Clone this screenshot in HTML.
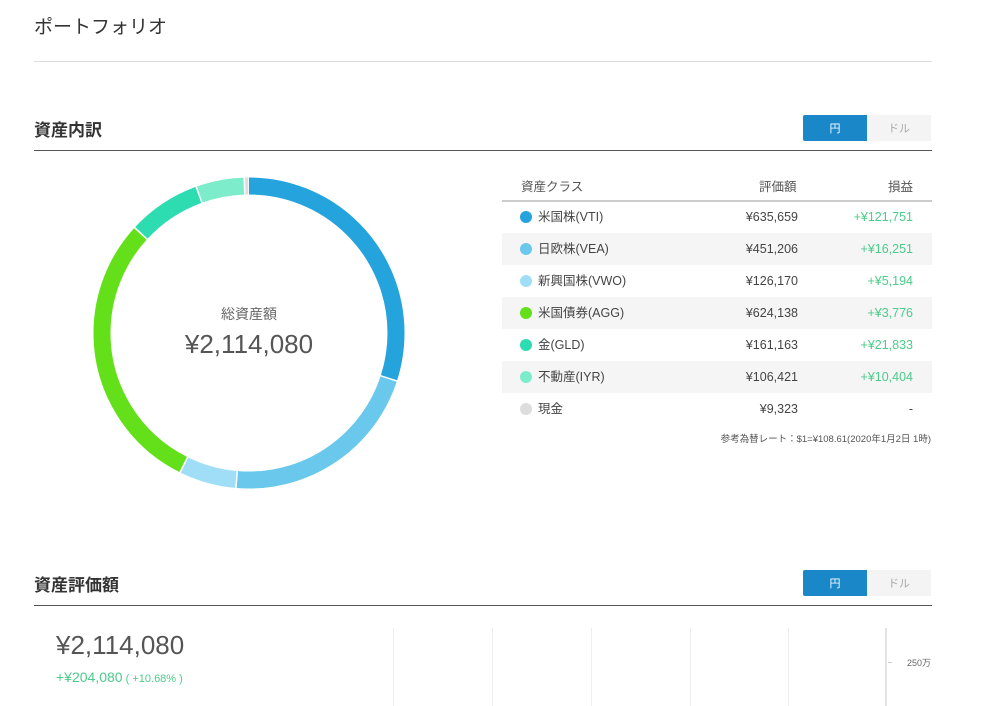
<!DOCTYPE html>
<html><head><meta charset="utf-8"><style>
body{margin:0;width:983px;height:706px;background:#fff;font-family:"Liberation Sans","Noto Sans CJK JP",sans-serif;color:#333;position:relative;overflow:hidden}
.a{position:absolute;white-space:nowrap}
.tg{position:absolute;width:128px;height:26px;display:flex;font-size:11px}
.tg div{flex:1;display:flex;align-items:center;justify-content:center}
.tg .on{background:#1a87c9;color:#fff;border-radius:2px 0 0 2px}
.tg .off{background:#f4f4f4;color:#aaa}
.row{position:absolute;left:502px;width:430px;height:32px;font-size:12.5px;color:#444}
.row span{position:absolute;top:0;line-height:32px;height:32px}
.dot{position:absolute;left:18px;top:10px;width:12px;height:12px;border-radius:50%}
.g{color:#4ccb8a}
</style></head><body>
<div class="a" style="left:34px;top:12px;font-size:19px;color:#333">ポートフォリオ</div>
<div class="a" style="left:34px;top:61px;width:898px;height:1px;background:#ddd"></div>

<div class="a" style="left:34px;top:116px;font-size:17px;font-weight:bold">資産内訳</div>
<div class="tg" style="left:803px;top:115px"><div class="on">円</div><div class="off">ドル</div></div>
<div class="a" style="left:34px;top:150px;width:898px;height:1px;background:#555"></div>

<svg class="a" style="left:0;top:0" width="500" height="520">
<g transform="rotate(-90 249 333)" fill="none" stroke-width="17">
<circle cx="249" cy="333" r="147" stroke="#24a3dd" stroke-dasharray="276.2 1000" stroke-dashoffset="0"/>
<circle cx="249" cy="333" r="147" stroke="#6ac8ec" stroke-dasharray="195.6 1000" stroke-dashoffset="-277.7"/>
<circle cx="249" cy="333" r="147" stroke="#a0def8" stroke-dasharray="53.6 1000" stroke-dashoffset="-474.8"/>
<circle cx="249" cy="333" r="147" stroke="#63e01a" stroke-dasharray="271.1 1000" stroke-dashoffset="-529.9"/>
<circle cx="249" cy="333" r="147" stroke="#2ddcb0" stroke-dasharray="68.9 1000" stroke-dashoffset="-802.6"/>
<circle cx="249" cy="333" r="147" stroke="#7deccb" stroke-dasharray="45 1000" stroke-dashoffset="-873"/>
<circle cx="249" cy="333" r="147" stroke="#ddd" stroke-dasharray="3 1000" stroke-dashoffset="-919.5"/>
</g>
<text x="249" y="319" text-anchor="middle" font-size="14" fill="#666" font-family="Liberation Sans,Noto Sans CJK JP,sans-serif">総資産額</text>
<text x="249" y="353" text-anchor="middle" font-size="26" fill="#555" font-family="Liberation Sans,Noto Sans CJK JP,sans-serif">¥2,114,080</text>
</svg>

<div class="a" style="left:521px;top:176px;font-size:12.5px;color:#555">資産クラス</div>
<div class="a" style="left:759px;top:176px;font-size:12.5px;color:#555">評価額</div>
<div class="a" style="left:888px;top:176px;font-size:12.5px;color:#555">損益</div>
<div class="a" style="left:502px;top:200px;width:430px;height:2px;background:#ccc"></div>

<div class="row" style="top:201px"><i class="dot" style="background:#24a3dd"></i><span style="left:36px">米国株(VTI)</span><span style="right:134px">¥635,659</span><span class="g" style="right:19px">+¥121,751</span></div>
<div class="row" style="top:233px;background:#f5f5f5"><i class="dot" style="background:#6ac8ec"></i><span style="left:36px">日欧株(VEA)</span><span style="right:134px">¥451,206</span><span class="g" style="right:19px">+¥16,251</span></div>
<div class="row" style="top:265px"><i class="dot" style="background:#a0def8"></i><span style="left:36px">新興国株(VWO)</span><span style="right:134px">¥126,170</span><span class="g" style="right:19px">+¥5,194</span></div>
<div class="row" style="top:297px;background:#f5f5f5"><i class="dot" style="background:#63e01a"></i><span style="left:36px">米国債券(AGG)</span><span style="right:134px">¥624,138</span><span class="g" style="right:19px">+¥3,776</span></div>
<div class="row" style="top:329px"><i class="dot" style="background:#2ddcb0"></i><span style="left:36px">金(GLD)</span><span style="right:134px">¥161,163</span><span class="g" style="right:19px">+¥21,833</span></div>
<div class="row" style="top:361px;background:#f5f5f5"><i class="dot" style="background:#7deccb"></i><span style="left:36px">不動産(IYR)</span><span style="right:134px">¥106,421</span><span class="g" style="right:19px">+¥10,404</span></div>
<div class="row" style="top:393px"><i class="dot" style="background:#ddd"></i><span style="left:36px">現金</span><span style="right:134px">¥9,323</span><span style="right:19px">-</span></div>
<div class="a" style="right:52px;top:431px;font-size:9.5px;color:#555">参考為替レート：$1=¥108.61(2020年1月2日 1時)</div>

<div class="a" style="left:34px;top:571px;font-size:17px;font-weight:bold">資産評価額</div>
<div class="tg" style="left:803px;top:570px"><div class="on">円</div><div class="off">ドル</div></div>
<div class="a" style="left:34px;top:605px;width:898px;height:1px;background:#555"></div>

<div class="a" style="left:56px;top:630px;font-size:26px;color:#555">¥2,114,080</div>
<div class="a" style="left:56px;top:669px;font-size:14px;color:#4ccb8a">+¥204,080<span style="font-size:11px"> ( +10.68% )</span></div>
<div class="a" style="left:393px;top:628px;width:1px;height:78px;background:#eee"></div>
<div class="a" style="left:492px;top:628px;width:1px;height:78px;background:#eee"></div>
<div class="a" style="left:591px;top:628px;width:1px;height:78px;background:#eee"></div>
<div class="a" style="left:690px;top:628px;width:1px;height:78px;background:#eee"></div>
<div class="a" style="left:788px;top:628px;width:1px;height:78px;background:#eee"></div>
<div class="a" style="left:885px;top:628px;width:2px;height:78px;background:#e4e4e4"></div>
<div class="a" style="left:888px;top:662px;width:4px;height:1px;background:#ccc"></div>
<div class="a" style="left:907px;top:656px;font-size:9px;color:#666">250万</div>
</body></html>
